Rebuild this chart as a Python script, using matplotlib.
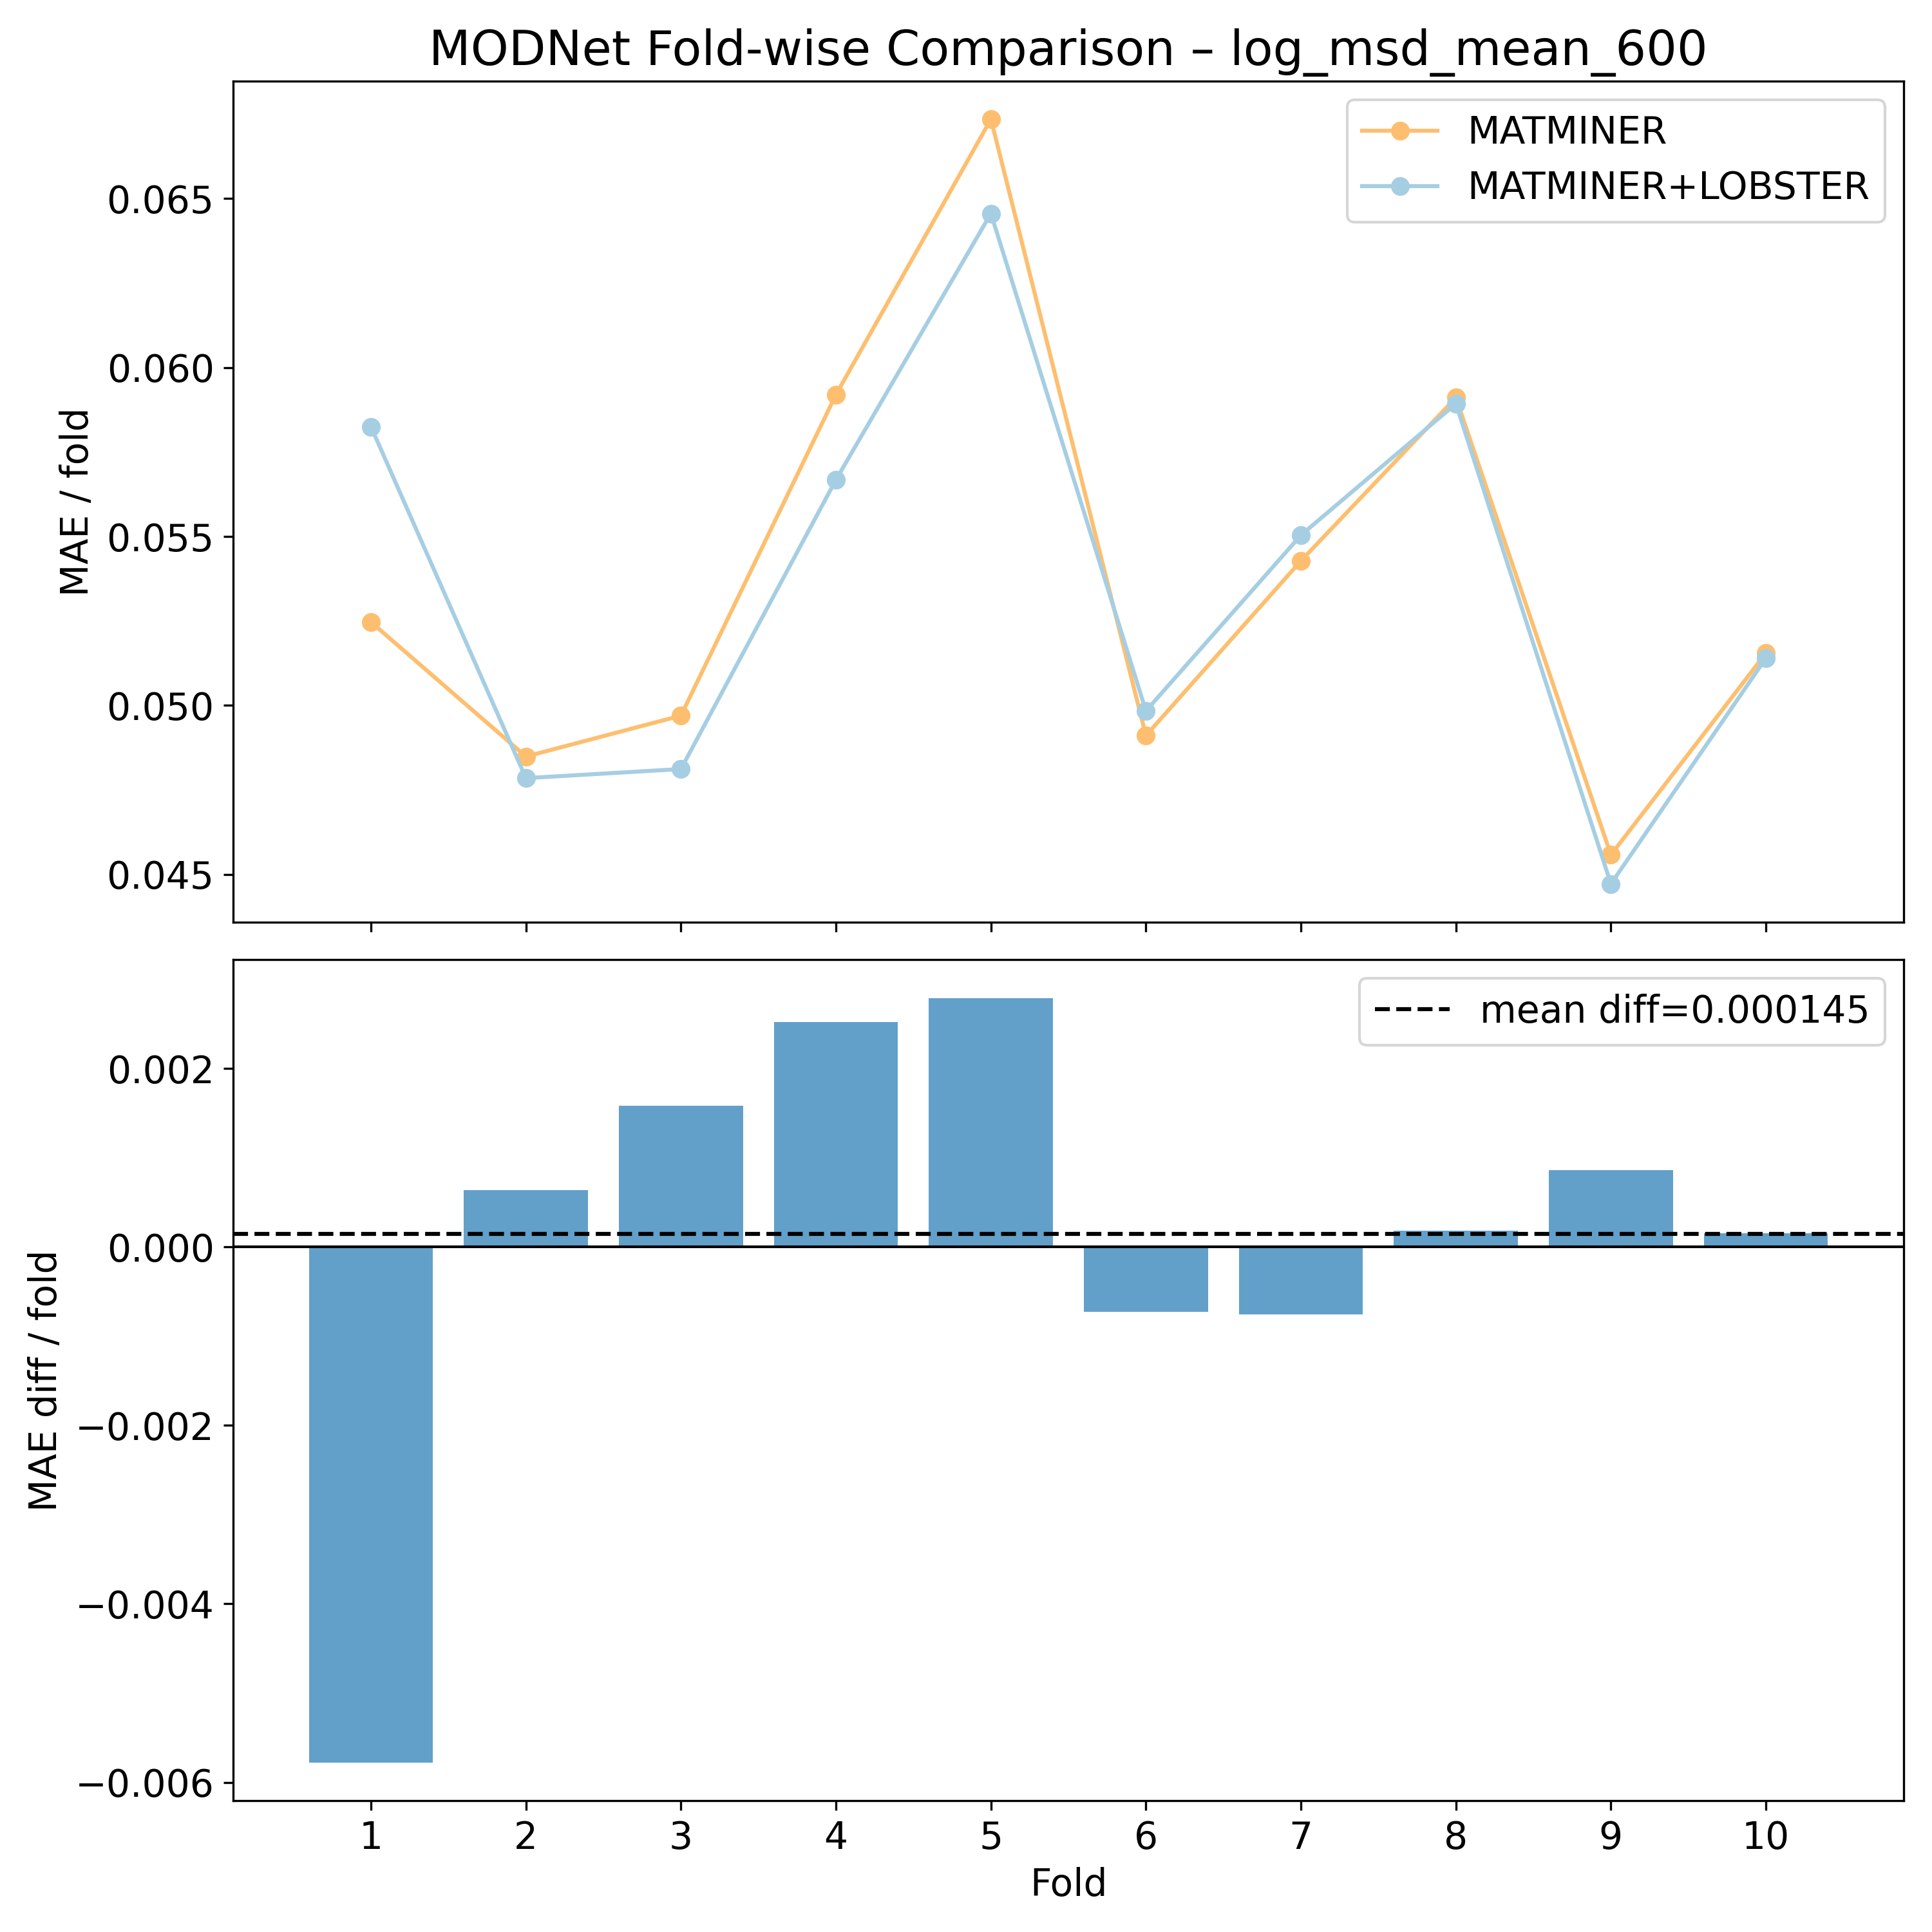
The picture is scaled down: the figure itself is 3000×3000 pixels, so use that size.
import numpy as np
import matplotlib
matplotlib.use("Agg")
import matplotlib.pyplot as plt

folds = np.arange(1, 11)
mae_matminer = [0.05247, 0.04849, 0.04970, 0.05920, 0.06735,
                0.04911, 0.05428, 0.05911, 0.04558, 0.05155]
mae_lobster = [0.05825, 0.04785, 0.04812, 0.05668, 0.06456,
               0.04984, 0.05504, 0.05893, 0.04472, 0.05140]

target = "log_msd_mean_600"

diff = np.array(mae_matminer) - np.array(mae_lobster)
mean_diff = diff.mean()

plt.rcParams["font.size"] = 14

fig, (ax1, ax2) = plt.subplots(2, 1, figsize=(10, 10), sharex=True)

ax1.plot(folds, mae_matminer, marker="o", color="#fdbf6f", label="MATMINER")
ax1.plot(folds, mae_lobster, marker="o", color="#a6cee3", label="MATMINER+LOBSTER")
ax1.set_ylabel("MAE / fold")
ax1.set_title(f"MODNet Fold-wise Comparison – {target}", fontsize=18)
ax1.legend(loc="upper right")

ax2.bar(folds, diff, color="#1f78b4", alpha=0.7)
ax2.axhline(0, color="black", linewidth=1)
ax2.axhline(mean_diff, color="black", linestyle="--", label=f"mean diff={mean_diff:.6f}")
ax2.set_ylabel("MAE diff / fold")
ax2.set_xlabel("Fold")
ax2.set_xticks(folds)
ax2.legend(loc="upper right")

fig.tight_layout(pad=0.75)
fig.savefig("out.png", dpi=300)
